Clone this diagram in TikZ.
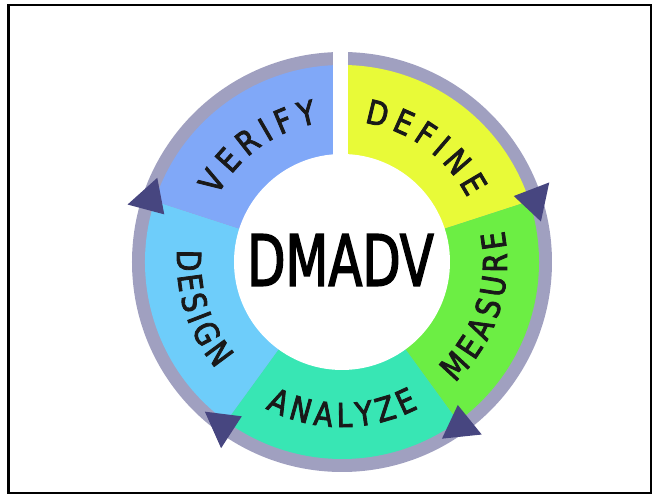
\documentclass[tikz,border=0pt]{standalone}
\usepackage{fontspec}
\usetikzlibrary{decorations.text}
\newfontfamily\dinfont[FakeStretch=0.7,FakeBold=2]{DejaVu Sans}
\newfontfamily\ringfont[FakeStretch=0.85,FakeBold=2.5]{DejaVu Sans}

\definecolor{verifyblue}{HTML}{80A8F8}
\definecolor{defineyellow}{HTML}{E8FA38}
\definecolor{measuregreen}{HTML}{6CEE44}
\definecolor{analyzeteal}{HTML}{38E6B4}
\definecolor{designblue}{HTML}{6ECDFA}
\definecolor{ringgray}{HTML}{A0A0C0}
\definecolor{tipnavy}{HTML}{474680}

\tikzset{
  ringlabel/.style={decorate, decoration={text along path, text align=center,
      text={|\ringfont\fontsize{33}{33}\selectfont\color{black!90}|#1}}},
  steptip/.style={fill=tipnavy},
}

\begin{document}
\begin{tikzpicture}[x=1pt,y=1pt]
  \useasboundingbox (-342,-235) rectangle (315,262);
  \draw[line width=2.5pt] (-333.5,257) rectangle (309,-231);

  % outer gray band
  \fill[ringgray] (0,0) circle (210);

  % five phases, clockwise from the top
  \foreach \col/\a in {defineyellow/90, measuregreen/18, analyzeteal/-54,
                       designblue/-126, verifyblue/-198}
    \fill[\col] (0,0) -- (\a:197) arc[start angle=\a, end angle=\a-72, radius=197] -- cycle;

  \fill[white] (-9,100) rectangle (6,215);
  \node[circle, fill=white, minimum size=216, inner sep=0pt] (hub) at (0,0) {};
  \node[font=\dinfont\fontsize{71}{71}\selectfont] (dmadv) at (-1.5,2) {DMADV};

  % arrow tips on the band
  \foreach \b in {18,-54,-126,162}
    \fill[steptip] ({\b+3}:184) -- ({\b+3}:222) -- ({\b-6.5}:203) -- cycle;

  \path[ringlabel={V{\kern6pt}E{\kern6pt}R{\kern6pt}I{\kern6pt}F{\kern6pt}Y}]
    (162:141) arc[start angle=162, end angle=90, radius=141];
  \path[ringlabel={D{\kern6pt}E{\kern6pt}F{\kern6pt}I{\kern6pt}N{\kern6pt}E}]
    (90:141) arc[start angle=90, end angle=18, radius=141];
  \path[ringlabel={M{\kern5pt}E{\kern5pt}A{\kern5pt}S{\kern5pt}U{\kern5pt}R{\kern5pt}E}]
    (-54:165) arc[start angle=-54, end angle=18, radius=165];
  \path[ringlabel={A{\kern5pt}N{\kern5pt}A{\kern5pt}L{\kern5pt}Y{\kern5pt}Z{\kern5pt}E}]
    (-126:165) arc[start angle=-126, end angle=-54, radius=165];
  \path[ringlabel={D{\kern4pt}E{\kern4pt}S{\kern4pt}I{\kern4pt}G{\kern4pt}N}]
    (162:165) arc[start angle=162, end angle=234, radius=165];
\end{tikzpicture}
\end{document}
